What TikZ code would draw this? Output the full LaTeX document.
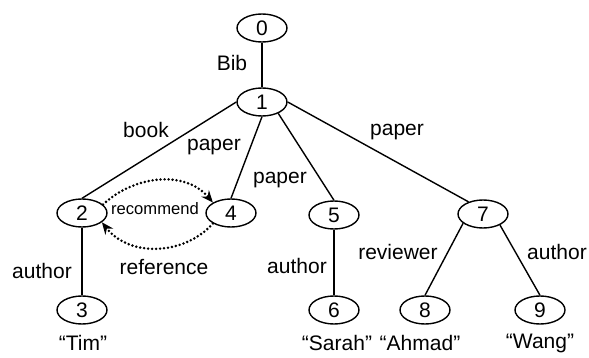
\documentclass[tikz,border=0pt]{standalone}
\usepackage{fontspec}
\setmainfont{Liberation Sans}
\usetikzlibrary{shapes.geometric,arrows.meta}
\begin{document}
\begin{tikzpicture}[x=0.5pt,y=-0.5pt,
  vert/.style={ellipse,draw,line width=0.7pt,minimum width=25pt,minimum height=14pt,inner sep=0pt,font=\fontsize{10.5}{12}\selectfont},
  edge/.style={line width=0.7pt},
  lbl/.style={inner sep=0pt,font=\fontsize{10.5}{12}\selectfont},
  small/.style={inner sep=0pt,font=\fontsize{8.3}{10}\selectfont},
  dotarrow/.style={line width=1.4pt,line cap=round,dash pattern=on 0pt off 2pt,-{Stealth[length=6pt,width=5pt,inset=2pt]}}]
\useasboundingbox (0,0) rectangle (589,358);
% vertices
\node[vert] (n0) at (262,28) {0};
\node[vert] (n1) at (262,102) {1};
\node[vert] (n2) at (82,213) {2};
\node[vert] (n4) at (231,213) {4};
\node[vert] (n5) at (334,215) {5};
\node[vert] (n7) at (483,214) {7};
\node[vert] (n3) at (82,310) {3};
\node[vert] (n6) at (334,310) {6};
\node[vert] (n8) at (425,310) {8};
\node[vert] (n9) at (540,310) {9};
% edges
\draw[edge] (n0) -- (n1);
\draw[edge] (n1.west) -- (n2.north);
\draw[edge] (n1.south) -- (n4.north);
\draw[edge] (n1.-35) -- (n5.north);
\draw[edge] (n1.east) -- (n7.140);
\draw[edge] (n2) -- (n3);
\draw[edge] (n5) -- (n6);
\draw[edge] (n7.205) -- (n8.north);
\draw[edge] (n7.-33) -- (n9.north);
% dotted arrows
\draw[dotarrow] (n2.22) .. controls (135,175) and (185,170) .. (n4.150);
\draw[dotarrow] (n4.210) .. controls (185,255) and (130,258) .. (n2.-25);
% edge labels
\node[lbl] (lBib) at (232,63) {Bib};
\node[lbl] (lbook) at (146,130) {book};
\node[lbl] (lp1) at (214,147) {paper};
\node[lbl] (lp2) at (280,180) {paper};
\node[lbl] (lp3) at (397,132) {paper};
\node[small] (lrec) at (155,209) {recommend};
\node[lbl] (lref) at (164,267) {reference};
\node[lbl] (la1) at (42,271) {author};
\node[lbl] (la2) at (297,266) {author};
\node[lbl] (lrev) at (398,252) {reviewer};
\node[lbl] (la3) at (557,252) {author};
% values
\node[lbl] (vTim) at (83,343) {“Tim”};
\node[lbl] (vSarah) at (337,343) {“Sarah”};
\node[lbl] (vAhmad) at (420,343) {“Ahmad”};
\node[lbl] (vWang) at (540,343) {“Wang”};
\end{tikzpicture}
\end{document}
